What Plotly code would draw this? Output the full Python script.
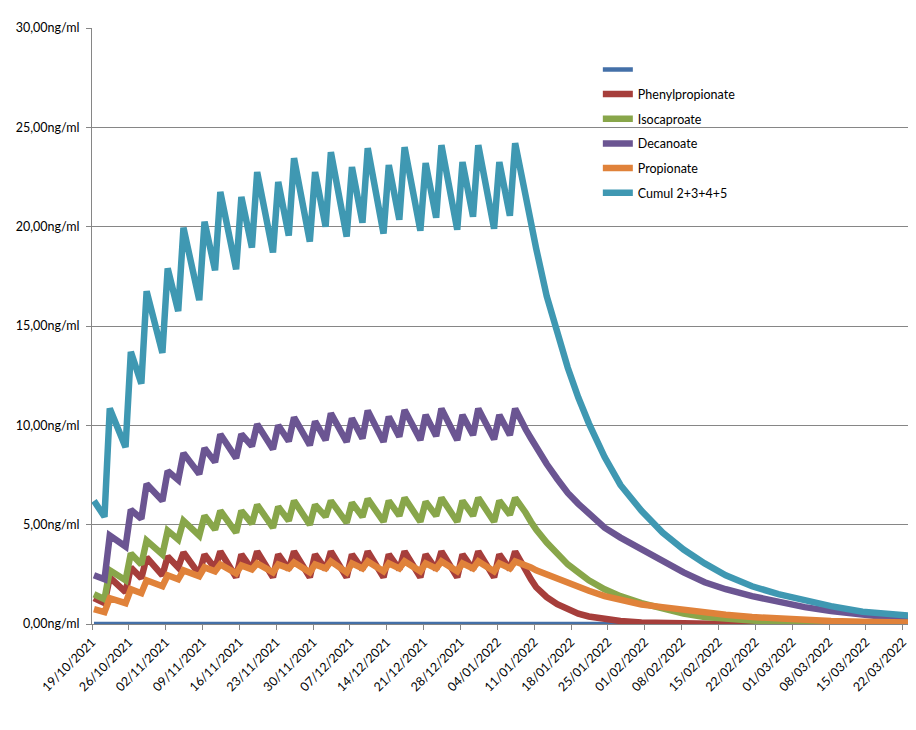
import plotly.graph_objects as go
import pandas as pd

dates = [
    "2021-10-19", "2021-10-21", "2021-10-22", "2021-10-25", "2021-10-26", "2021-10-28", "2021-10-29",
    "2021-11-01", "2021-11-02", "2021-11-04", "2021-11-05", "2021-11-08", "2021-11-09", "2021-11-11",
    "2021-11-12", "2021-11-15", "2021-11-16", "2021-11-18", "2021-11-19", "2021-11-22", "2021-11-23",
    "2021-11-25", "2021-11-26", "2021-11-29", "2021-11-30", "2021-12-02", "2021-12-03", "2021-12-06",
    "2021-12-07", "2021-12-09", "2021-12-10", "2021-12-13", "2021-12-14", "2021-12-16", "2021-12-17",
    "2021-12-20", "2021-12-21", "2021-12-23", "2021-12-24", "2021-12-27", "2021-12-28", "2021-12-30",
    "2021-12-31", "2022-01-03", "2022-01-04", "2022-01-06", "2022-01-07",
    "2022-01-08", "2022-01-09", "2022-01-10", "2022-01-11", "2022-01-13", "2022-01-15", "2022-01-17",
    "2022-01-19", "2022-01-21", "2022-01-24", "2022-01-27", "2022-01-31", "2022-02-04", "2022-02-08",
    "2022-02-12", "2022-02-16", "2022-02-21", "2022-02-26", "2022-03-03", "2022-03-08", "2022-03-14",
    "2022-03-20", "2022-03-25", "2022-03-31",
]

blank = [0.0] * 71

phenylpropionate = [
    1.3, 1.05, 2.35, 1.6, 2.85, 2.3, 3.35, 2.45, 3.4, 2.85, 3.6, 2.5, 3.5, 2.8,
    3.65, 2.35, 3.5, 2.75, 3.65, 2.35, 3.5, 2.75, 3.65, 2.35, 3.5, 2.75, 3.65, 2.35,
    3.5, 2.75, 3.65, 2.35, 3.5, 2.75, 3.65, 2.35, 3.5, 2.75, 3.65, 2.35, 3.5, 2.75,
    3.65, 2.35, 3.5, 2.75, 3.65,
    3.15, 2.7, 2.25, 1.85, 1.35, 1.0, 0.72, 0.52, 0.38, 0.24, 0.15, 0.08, 0.04, 0.02,
    0.01, 0.0, 0.0, 0.0, 0.0, 0.0, 0.0, 0.0, 0.0, 0.0,
]

isocaproate = [
    1.5, 1.25, 2.7, 2.2, 3.55, 3.0, 4.2, 3.5, 4.7, 4.25, 5.2, 4.45, 5.45, 4.75,
    5.7, 4.6, 5.7, 5.05, 6.0, 4.85, 5.9, 5.2, 6.2, 5.0, 6.0, 5.4, 6.2, 5.1,
    6.1, 5.4, 6.3, 5.15, 6.2, 5.45, 6.35, 5.15, 6.15, 5.45, 6.35, 5.15, 6.2, 5.45,
    6.35, 5.15, 6.2, 5.5, 6.35,
    6.0, 5.6, 5.15, 4.75, 4.1, 3.5, 3.0, 2.6, 2.2, 1.75, 1.4, 1.05, 0.75, 0.52,
    0.35, 0.25, 0.15, 0.08, 0.05, 0.03, 0.02, 0.01, 0.01, 0.0,
]

decanoate = [
    2.45, 2.25, 4.45, 3.9, 5.75, 5.3, 7.05, 6.2, 7.7, 7.25, 8.6, 7.55, 8.85, 8.15,
    9.55, 8.35, 9.55, 8.95, 10.05, 8.8, 10.0, 9.2, 10.4, 9.0, 10.2, 9.26, 10.6, 9.17,
    10.35, 9.34, 10.74, 9.17, 10.43, 9.43, 10.77, 9.26, 10.52, 9.46, 10.84, 9.26, 10.52, 9.51,
    10.84, 9.3, 10.52, 9.51, 10.84,
    10.25, 9.8, 9.35, 8.9, 8.05, 7.3, 6.6, 6.05, 5.55, 4.85, 4.35, 3.75, 3.2, 2.6,
    2.1, 1.75, 1.4, 1.1, 0.85, 0.65, 0.45, 0.3, 0.22, 0.15,
]

propionate = [
    0.75, 0.6, 1.3, 1.05, 1.75, 1.55, 2.2, 1.9, 2.45, 2.25, 2.7, 2.4, 2.85, 2.65,
    3.0, 2.55, 2.95, 2.75, 3.05, 2.6, 3.0, 2.8, 3.1, 2.6, 3.0, 2.8, 3.15, 2.6,
    3.05, 2.8, 3.15, 2.65, 3.05, 2.8, 3.15, 2.65, 3.05, 2.8, 3.15, 2.65, 3.05, 2.8,
    3.15, 2.65, 3.05, 2.8, 3.15,
    3.05, 3.0, 2.85, 2.7, 2.48, 2.27, 2.07, 1.87, 1.67, 1.4, 1.2, 0.98, 0.85, 0.7,
    0.58, 0.47, 0.35, 0.26, 0.2, 0.15, 0.11, 0.08, 0.07, 0.05,
]

cumul = [
    6.2, 5.4, 10.85, 8.9, 13.7, 12.1, 16.75, 13.65, 17.9, 15.75, 19.95, 16.3, 20.25, 17.8,
    21.75, 17.85, 21.5, 18.95, 22.75, 18.7, 22.25, 19.55, 23.45, 19.25, 22.75, 20.0, 23.75, 19.5,
    23.0, 20.2, 23.95, 19.65, 23.1, 20.35, 24.0, 19.8, 23.2, 20.45, 24.1, 19.85, 23.25, 20.5,
    24.1, 19.9, 23.25, 20.55, 24.2,
    22.8, 21.4, 20.2, 18.9, 16.5, 14.6, 12.9, 11.4, 10.1, 8.4, 7.0, 5.7, 4.6, 3.75,
    3.05, 2.45, 1.9, 1.5, 1.17, 0.9, 0.62, 0.45, 0.35, 0.25,
]

y_ticks = [0, 5, 10, 15, 20, 25, 30]
y_tick_labels = ["0,00ng/ml", "5,00ng/ml", "10,00ng/ml", "15,00ng/ml",
                 "20,00ng/ml", "25,00ng/ml", "30,00ng/ml"]

series = [
    (" ", blank, "#4470A8", 4.5),
    ("Phenylpropionate", phenylpropionate, "#A63E3B", 6.5),
    ("Isocaproate", isocaproate, "#88A64A", 6.5),
    ("Decanoate", decanoate, "#6B5592", 6.5),
    ("Propionate", propionate, "#E0823A", 6.5),
    ("Cumul 2+3+4+5", cumul, "#3F98B2", 6.5),
]

# points sit a little after midnight, as in the source chart
x = pd.to_datetime(dates) + pd.Timedelta(hours=9)

fig = go.Figure()
for i, (name, vals, color, w) in enumerate(series):
    fig.add_trace(go.Scatter(
        x=x, y=vals, mode="lines", name=name,
        legendgroup=f"g{i}",
        line=dict(color=color, width=w),
    ))

FONT = "Lato, 'Liberation Sans', sans-serif"
# the page body has an 8px margin on every side
fig.update_layout(
    width=900, height=714,
    margin=dict(l=84, r=0, t=20, b=98, autoexpand=False),
    paper_bgcolor="white", plot_bgcolor="white",
    font=dict(family=FONT, size=12.5, color="black"),
    showlegend=True,
    legend=dict(
        x=0.6199, y=0.955, xanchor="left", yanchor="top",
        bgcolor="rgba(0,0,0,0)", font=dict(family=FONT, size=12.5, color="black"),
        tracegroupgap=5.4, itemwidth=30,
    ),
)
fig.update_xaxes(
    type="date",
    range=["2021-10-19", "2022-03-23 00:00"],
    tick0="2021-10-19", dtick=7 * 86400000, tickformat="%d/%m/%Y",
    tickangle=-45, ticks="outside", ticklen=5, tickcolor="#868686",
    ticklabeloverflow="allow",
    showline=True, linecolor="#868686", linewidth=1,
    showgrid=False, zeroline=False,
)
fig.update_yaxes(
    range=[0, 30], tickvals=y_ticks, ticktext=y_tick_labels,
    ticks="outside", ticklen=5, tickcolor="#868686", ticklabelstandoff=4,
    showline=True, linecolor="#868686", linewidth=1,
    showgrid=True, gridcolor="#868686", gridwidth=1, zeroline=False,
)

fig.write_html("out.html")
